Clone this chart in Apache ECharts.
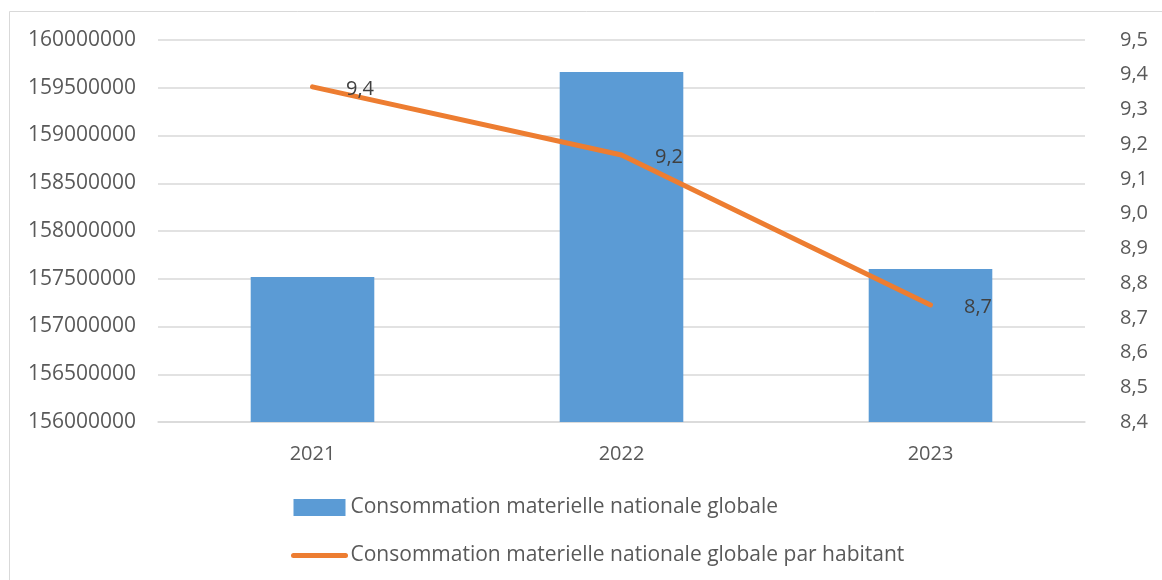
<!DOCTYPE html>
<html>
<head>
<meta charset="utf-8">
<script src="https://cdn.jsdelivr.net/npm/echarts@6/dist/echarts.min.js"></script>
<style>
  html, body { margin: 0; padding: 0; background: #fff; }
  #main { width: 1162px; height: 580px; }
</style>
</head>
<body>
<div id="main"></div>
<script>
var years = ['2021', '2022', '2023'];
var consoGlobale = [157518000, 159665000, 157602000];
var consoHabitant = [9.365, 9.169, 8.737];
var nomBarres = 'Consommation materielle nationale globale';
var nomLigne = 'Consommation materielle nationale globale par habitant';

function virgule(v) {
    return Number(v).toFixed(1).replace('.', ',');
}

var txt = '#595959';
var font = 'Open Sans';
var myChart = echarts.init(document.getElementById('main'));
var option = {
    animation: false,
    textStyle: { fontFamily: font },
    graphic: [{
        type: 'rect',
        shape: { x: 9.5, y: 11.5, width: 1200, height: 600 },
        style: { fill: 'none', stroke: '#d9d9d9', lineWidth: 1 },
        silent: true
    }],
    grid: { left: 158, right: 77, top: 40, bottom: 158 },
    legend: {
        orient: 'vertical',
        left: 291,
        top: 497,
        padding: 0,
        itemWidth: 52,
        itemHeight: 17,
        itemGap: 27,
        textStyle: { color: txt, fontSize: 21, fontFamily: font },
        data: [
            { name: nomBarres, icon: 'rect' },
            { name: nomLigne, itemStyle: { opacity: 0 }, lineStyle: { width: 5, cap: 'round' } }
        ]
    },
    xAxis: {
        type: 'category',
        data: years,
        axisLine: { lineStyle: { color: '#d9d9d9', width: 1.5 } },
        axisTick: { show: false },
        axisLabel: { color: txt, fontSize: 20, margin: 22 }
    },
    yAxis: [{
        type: 'value',
        min: 156000000,
        max: 160000000,
        interval: 500000,
        axisLine: { show: false },
        axisTick: { show: false },
        axisLabel: { color: txt, fontSize: 21, margin: 22, formatter: function (v) { return String(v); } },
        splitLine: { lineStyle: { color: '#d9d9d9', width: 1.5 } }
    }, {
        type: 'value',
        min: 8.4,
        max: 9.5,
        interval: 0.1,
        axisLine: { show: false },
        axisTick: { show: false },
        axisLabel: { color: txt, fontSize: 20, margin: 35, formatter: virgule },
        splitLine: { show: false }
    }],
    series: [{
        name: nomBarres,
        type: 'bar',
        data: consoGlobale,
        barWidth: '40%',
        itemStyle: { color: '#5B9BD5' }
    }, {
        name: nomLigne,
        type: 'line',
        yAxisIndex: 1,
        data: consoHabitant,
        symbol: 'circle',
        symbolSize: 1,
        lineStyle: { color: '#ED7D31', width: 5, cap: 'round', join: 'round' },
        itemStyle: { color: '#ED7D31' },
        label: {
            show: true,
            position: 'right',
            distance: 33,
            color: '#404040',
            fontSize: 20,
            offset: [0, 2],
            formatter: function (p) { return virgule(p.value); }
        }
    }]
};
myChart.setOption(option);
</script>
</body>
</html>
